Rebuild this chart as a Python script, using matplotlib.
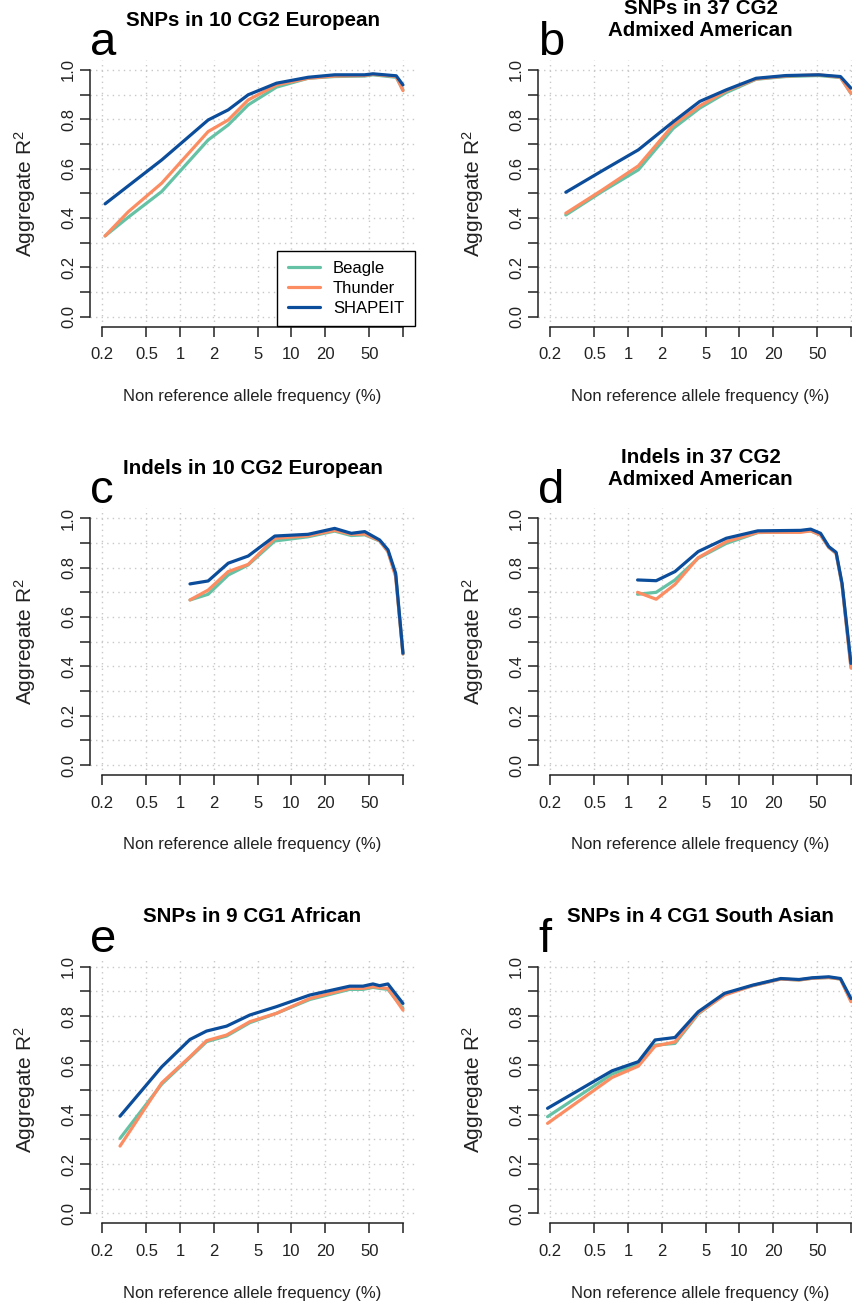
import numpy as np
import matplotlib
matplotlib.use('Agg')
import matplotlib.pyplot as plt

plt.rcParams['font.family'] = ['Liberation Sans', 'DejaVu Sans']
plt.rcParams['mathtext.fontset'] = 'custom'
plt.rcParams['mathtext.rm'] = 'Liberation Sans'
plt.rcParams['mathtext.it'] = 'Liberation Sans:italic'

# values (x = non reference allele frequency in %)
freq_a = [0.213, 0.344, 0.686, 1.79, 2.71, 4.09, 7.34, 14.1, 24.4, 45.3, 53.8, 87, 100]
beagle_a = [0.327, 0.403, 0.507, 0.716, 0.777, 0.858, 0.930, 0.966, 0.973, 0.975, 0.980, 0.970, 0.919]
thunder_a = [0.327, 0.425, 0.541, 0.750, 0.797, 0.878, 0.939, 0.966, 0.975, 0.977, 0.982, 0.973, 0.916]
shapeit_a = [0.457, 0.530, 0.635, 0.797, 0.838, 0.899, 0.946, 0.970, 0.980, 0.980, 0.984, 0.976, 0.939]

freq_b = [0.277, 0.587, 1.24, 2.55, 4.40, 7.61, 14.1, 26.1, 51.5, 80.5, 100]
beagle_b = [0.412, 0.507, 0.595, 0.763, 0.845, 0.908, 0.962, 0.973, 0.977, 0.969, 0.905]
thunder_b = [0.419, 0.513, 0.611, 0.777, 0.854, 0.915, 0.963, 0.975, 0.980, 0.970, 0.905]
shapeit_b = [0.504, 0.591, 0.676, 0.790, 0.872, 0.919, 0.966, 0.977, 0.980, 0.973, 0.926]

freq_c = [1.23, 1.79, 2.71, 4.09, 7.09, 14.1, 24.4, 34.4, 45.4, 61.8, 73.4, 86, 100]
beagle_c = [0.669, 0.692, 0.770, 0.811, 0.908, 0.925, 0.948, 0.930, 0.933, 0.908, 0.865, 0.770, 0.450]
thunder_c = [0.669, 0.709, 0.784, 0.813, 0.919, 0.929, 0.951, 0.935, 0.936, 0.909, 0.865, 0.763, 0.450]
shapeit_c = [0.734, 0.746, 0.818, 0.847, 0.928, 0.935, 0.959, 0.939, 0.946, 0.912, 0.872, 0.777, 0.453]

freq_d = [1.22, 1.79, 2.64, 4.26, 7.61, 14.6, 35.4, 43.5, 53.4, 63.3, 73.6, 83.2, 100]
beagle_d = [0.692, 0.700, 0.750, 0.838, 0.898, 0.942, 0.946, 0.949, 0.932, 0.882, 0.858, 0.730, 0.400]
thunder_d = [0.700, 0.672, 0.732, 0.840, 0.905, 0.943, 0.943, 0.949, 0.932, 0.882, 0.858, 0.730, 0.393]
shapeit_d = [0.750, 0.747, 0.784, 0.865, 0.919, 0.949, 0.951, 0.956, 0.939, 0.885, 0.862, 0.736, 0.412]

freq_e = [0.290, 0.686, 1.23, 1.73, 2.62, 4.23, 7.34, 14.6, 33.3, 43.8, 53.8, 61.7, 73.3, 100]
beagle_e = [0.304, 0.524, 0.632, 0.696, 0.719, 0.773, 0.811, 0.867, 0.908, 0.908, 0.916, 0.912, 0.908, 0.831]
thunder_e = [0.273, 0.529, 0.635, 0.700, 0.723, 0.777, 0.811, 0.871, 0.912, 0.912, 0.919, 0.915, 0.912, 0.824]
shapeit_e = [0.394, 0.594, 0.705, 0.739, 0.759, 0.804, 0.838, 0.885, 0.921, 0.921, 0.930, 0.923, 0.930, 0.851]

freq_f = [0.190, 0.720, 1.24, 1.75, 2.64, 4.26, 7.35, 13.1, 23.5, 34.2, 45, 63.3, 80.5, 100]
beagle_f = [0.392, 0.565, 0.605, 0.682, 0.689, 0.808, 0.888, 0.923, 0.950, 0.946, 0.953, 0.956, 0.950, 0.864]
thunder_f = [0.365, 0.551, 0.597, 0.678, 0.695, 0.811, 0.885, 0.923, 0.950, 0.946, 0.953, 0.956, 0.950, 0.858]
shapeit_f = [0.426, 0.578, 0.615, 0.703, 0.713, 0.817, 0.892, 0.925, 0.952, 0.948, 0.955, 0.959, 0.952, 0.871]

xticks = [0.2, 0.5, 1, 2, 5, 10, 20, 50, 100]
xticklabels = ['0.2', '0.5', '1', '2', '5', '10', '20', '50', '']
yticks = [0.0, 0.1, 0.2, 0.3, 0.4, 0.5, 0.6, 0.7, 0.8, 0.9, 1.0]
yticklabels = ['0.0', '', '0.2', '', '0.4', '', '0.6', '', '0.8', '', '1.0']

COL_BEAGLE = '#66c2a5'
COL_THUNDER = '#fc8d62'
COL_SHAPEIT = '#0b4d9b'

W, H = 852, 1304
fig = plt.figure(figsize=(W / 100, H / 100), dpi=100)

AX_W, AX_H = 325, 266.5


def make_axes(left_px, top_px):
    return fig.add_axes([left_px / W, 1 - (top_px + AX_H) / H, AX_W / W, AX_H / H])


def draw_panel(ax, freq, beagle, thunder, shapeit, title, letter, legend=False):
    ax.set_xscale('log')
    lo, hi = np.log10(0.2), np.log10(100)
    ext = 0.04 * (hi - lo)
    ax.set_xlim(10 ** (lo - ext), 10 ** (hi + ext))
    ax.set_ylim(-0.04, 1.04)

    # dotted grid like R's grid()
    for y in yticks:
        ax.axhline(y, color='#c8c8c8', lw=1.0, ls=(0, (1, 3)), zorder=0)
    for x in xticks:
        ax.axvline(x, color='#c8c8c8', lw=1.0, ls=(0, (1, 3)), zorder=0)

    ax.plot(freq, beagle, color=COL_BEAGLE, lw=2.3, label='Beagle', solid_capstyle='round')
    ax.plot(freq, thunder, color=COL_THUNDER, lw=2.3, label='Thunder', solid_capstyle='round')
    ax.plot(freq, shapeit, color=COL_SHAPEIT, lw=2.3, label='SHAPEIT', solid_capstyle='round')

    for s in ['top', 'right']:
        ax.spines[s].set_visible(False)
    ax.spines['left'].set_bounds(0, 1)
    ax.spines['bottom'].set_bounds(0.2, 100)
    for s in ['left', 'bottom']:
        ax.spines[s].set_linewidth(1.1)
        ax.spines[s].set_color('#222222')

    ax.set_xticks(xticks)
    ax.set_xticklabels(xticklabels)
    ax.xaxis.set_minor_locator(matplotlib.ticker.NullLocator())
    ax.set_yticks(yticks)
    ax.set_yticklabels(yticklabels, rotation=90, va='center')
    ax.tick_params(axis='both', direction='out', length=7, width=1.1, color='#222222',
                   labelsize=12, labelcolor='#222222')
    ax.tick_params(axis='x', pad=8)
    ax.tick_params(axis='y', pad=3)

    ax.text(0.5, -70 / AX_H, 'Non reference allele frequency (%)', transform=ax.transAxes,
            ha='center', va='center', fontsize=12, color='#222222')
    ax.text(-65 / AX_W, 0.5, 'Aggregate R$^2$', transform=ax.transAxes, rotation=90,
            ha='center', va='center', fontsize=15, color='#222222')
    ax.text(0.5, 1 + 40 / AX_H, title, transform=ax.transAxes, ha='center', va='center',
            fontsize=14.8, fontweight='bold', linespacing=1.2)
    ax.text(0.0, 1 + 5 / AX_H, letter, transform=ax.transAxes, ha='left', va='baseline',
            fontsize=34)

    if legend:
        leg = ax.legend(loc='lower right', borderaxespad=0, fontsize=12, fancybox=False,
                        framealpha=1, edgecolor='black', handlelength=1.9,
                        handletextpad=0.8, borderpad=0.65, labelspacing=0.28)
        leg.get_frame().set_linewidth(1.0)


ax_a = make_axes(90, 60)
draw_panel(ax_a, freq_a, beagle_a, thunder_a, shapeit_a, 'SNPs in 10 CG2 European', 'a', legend=True)
ax_b = make_axes(538, 60)
draw_panel(ax_b, freq_b, beagle_b, thunder_b, shapeit_b, 'SNPs in 37 CG2\nAdmixed American', 'b')
ax_c = make_axes(90, 508.4)
draw_panel(ax_c, freq_c, beagle_c, thunder_c, shapeit_c, 'Indels in 10 CG2 European', 'c')
ax_d = make_axes(538, 508.4)
draw_panel(ax_d, freq_d, beagle_d, thunder_d, shapeit_d, 'Indels in 37 CG2\nAdmixed American', 'd')
ax_e = make_axes(90, 956.8)
draw_panel(ax_e, freq_e, beagle_e, thunder_e, shapeit_e, 'SNPs in 9 CG1 African', 'e')
ax_f = make_axes(538, 956.8)
draw_panel(ax_f, freq_f, beagle_f, thunder_f, shapeit_f, 'SNPs in 4 CG1 South Asian', 'f')

fig.savefig('out.png', dpi=100)
